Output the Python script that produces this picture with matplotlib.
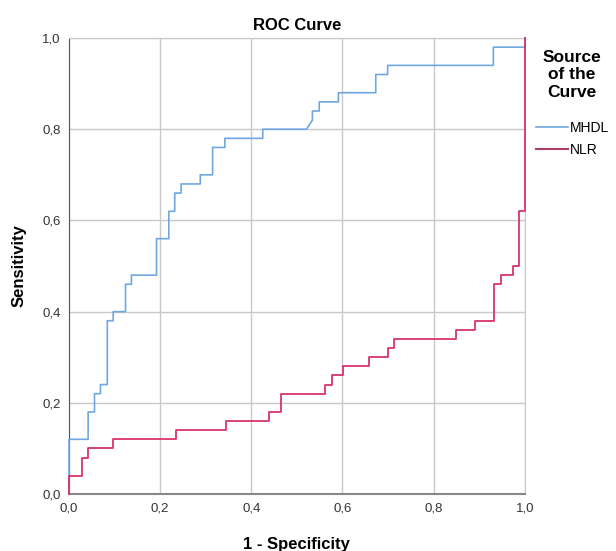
import matplotlib
matplotlib.use("Agg")
import matplotlib.pyplot as plt
from matplotlib.lines import Line2D

plt.rcParams['font.family'] = ['Liberation Sans', 'DejaVu Sans']

# ROC coordinates (1 - specificity, sensitivity)
mhdl_fpr = [0, 0, 0.042, 0.042, 0.056, 0.056, 0.069, 0.069, 0.084, 0.084,
            0.097, 0.097, 0.124, 0.124, 0.137, 0.137, 0.192, 0.192, 0.219, 0.219,
            0.232, 0.232, 0.246, 0.246, 0.288, 0.288, 0.315, 0.315, 0.342, 0.342,
            0.425, 0.425, 0.521, 0.534, 0.534, 0.549, 0.549, 0.591, 0.591, 0.673,
            0.673, 0.699, 0.699, 0.931, 0.931, 1.0, 1.0]
mhdl_tpr = [0, 0.12, 0.12, 0.18, 0.18, 0.22, 0.22, 0.24, 0.24, 0.38,
            0.38, 0.40, 0.40, 0.46, 0.46, 0.48, 0.48, 0.56, 0.56, 0.62,
            0.62, 0.66, 0.66, 0.68, 0.68, 0.70, 0.70, 0.76, 0.76, 0.78,
            0.78, 0.80, 0.80, 0.82, 0.84, 0.84, 0.86, 0.86, 0.88, 0.88,
            0.92, 0.92, 0.94, 0.94, 0.98, 0.98, 1.0]

nlr_fpr = [0, 0, 0.028, 0.028, 0.042, 0.042, 0.096, 0.096, 0.234, 0.234,
           0.344, 0.344, 0.439, 0.439, 0.466, 0.466, 0.561, 0.561, 0.576, 0.576,
           0.602, 0.602, 0.658, 0.658, 0.699, 0.699, 0.713, 0.713, 0.849, 0.849,
           0.891, 0.891, 0.932, 0.932, 0.947, 0.947, 0.973, 0.973, 0.987, 0.987,
           1.0, 1.0]
nlr_tpr = [0, 0.04, 0.04, 0.08, 0.08, 0.10, 0.10, 0.12, 0.12, 0.14,
           0.14, 0.16, 0.16, 0.18, 0.18, 0.22, 0.22, 0.24, 0.24, 0.26,
           0.26, 0.28, 0.28, 0.30, 0.30, 0.32, 0.32, 0.34, 0.34, 0.36,
           0.36, 0.38, 0.38, 0.46, 0.46, 0.48, 0.48, 0.50, 0.50, 0.62,
           0.62, 1.0]

ticks = [0, 0.2, 0.4, 0.6, 0.8, 1.0]
tick_labels = ["0,0", "0,2", "0,4", "0,6", "0,8", "1,0"]

blue = '#6fa8e0'
red = '#d8346a'

fig = plt.figure(figsize=(6.16, 5.51), dpi=100)
ax = fig.add_axes([0.112, 0.1034, 0.740, 0.8276])

ax.plot(mhdl_fpr, mhdl_tpr, color=blue, lw=1.2, clip_on=False, zorder=3)
ax.plot(nlr_fpr, nlr_tpr, color=red, lw=1.3, clip_on=False, zorder=4)

ax.set_xlim(0, 1)
ax.set_ylim(0, 1)
ax.set_xticks(ticks)
ax.set_yticks(ticks)
ax.set_xticklabels(tick_labels)
ax.set_yticklabels(tick_labels)
ax.tick_params(length=0, labelsize=9.5, colors='#333333', pad=6)
ax.grid(True, color='#c8c8c8', lw=1)
ax.set_axisbelow(True)

for s in ['top', 'right']:
    ax.spines[s].set_color('#c8c8c8')
ax.spines['left'].set_color('#555555')
ax.spines['bottom'].set_color('#888888')
ax.spines['bottom'].set_linewidth(1.5)

ax.set_title("ROC Curve", fontsize=12, fontweight='bold', pad=6)
ax.set_xlabel("1 - Specificity", fontsize=12, fontweight='bold', labelpad=16)
ax.set_ylabel("Sensitivity", fontsize=12, fontweight='bold', labelpad=11)

# legend title and entries
fig.text(572 / 616, 1 - 50 / 551, "Source\nof the\nCurve", ha='center', va='top',
         fontsize=12.5, fontweight='bold', linespacing=1.2)
handles = [Line2D([], [], color=blue, lw=1.2), Line2D([], [], color='#b03a68', lw=1.5)]
fig.legend(handles, ["MHDL", "NLR"], loc='upper left',
           bbox_to_anchor=(536 / 616, 1 - 121 / 551), frameon=False,
           fontsize=10, handlelength=2.3, handletextpad=0.15, labelspacing=0.55,
           borderaxespad=0, borderpad=0)

fig.savefig("out.png", dpi=100)
